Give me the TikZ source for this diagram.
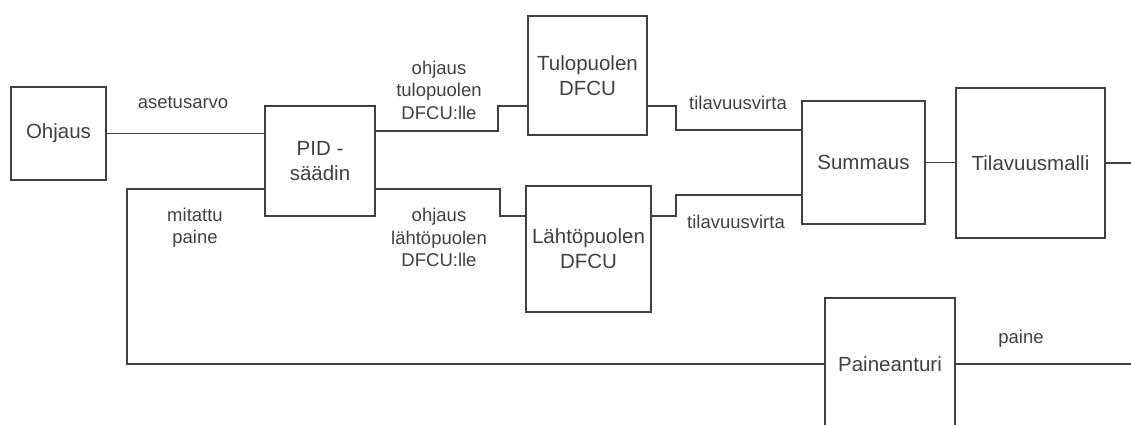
\documentclass[tikz,border=0pt]{standalone}
\usepackage{fontspec}
\setmainfont{Liberation Sans}
\usepackage{tikz}
\usetikzlibrary{calc}
\definecolor{ink}{HTML}{404040}

\begin{document}
\begin{tikzpicture}[
  x=1pt, y=-1pt,
  blk/.style = {draw=ink, line width=1.6pt, align=center, text=ink, inner sep=0pt, font=\fontsize{20.5}{25}\selectfont},
  lbl/.style = {align=center, text=ink, inner sep=0pt, font=\fontsize{18.5}{22.5}\selectfont},
  sig/.style = {draw=ink, line width=1.5pt}
]
\useasboundingbox (0,0) rectangle (1131,425);
\clip (0,0) rectangle (1131,425);

\node[blk, minimum width=95pt, minimum height=93pt] (ohjaus) at (58.5,133.5) {Ohjaus};
\node[blk, minimum width=110pt, minimum height=110pt] (pid) at (320,161) {PID -\\säädin};
\node[blk, minimum width=119pt, minimum height=119pt] (tulo) at (587.5,75.5) {Tulopuolen\\DFCU};
\node[blk, minimum width=125pt, minimum height=126pt] (lahto) at (588.5,249) {Lähtöpuolen\\DFCU};
\node[blk, minimum width=123pt, minimum height=123pt] (summaus) at (863.5,162.5) {Summaus};
\node[blk, minimum width=149pt, minimum height=150pt] (malli) at (1030.5,163) {Tilavuusmalli};
\node[blk, minimum width=130pt, minimum height=132pt] (anturi) at (890,364) {Paineanturi};
\coordinate (ulos) at (1140,0);

\node[lbl] (asetus) at (183,103) {asetusarvo};
\node[lbl] (ohjtulo) at (439,90) {ohjaus\\tulopuolen\\DFCU:lle};
\node[lbl] (ohjlahto) at (439,237.5) {ohjaus\\lähtöpuolen\\DFCU:lle};
\node[lbl] (virta1) at (738,103) {tilavuusvirta};
\node[lbl] (virta2) at (736,222) {tilavuusvirta};
\node[lbl] (mitattu) at (195,227.5) {mitattu\\paine};
\node[lbl] (paine) at (1021,339) {paine};

\draw[sig] (ohjaus.east) -- (ohjaus.east -| pid.west);
\draw[sig] ($(pid.north east)+(0,26)$) -- ++(122,0) |- ($(tulo.south west)+(0,-30)$);
\draw[sig] ($(pid.south east)+(0,-28)$) -- ++(124,0) |- ($(lahto.north west)+(0,31)$);
\draw[sig] ($(tulo.south east)+(0,-30)$) -- ++(28,0) |- ($(summaus.north west)+(0,30)$);
\draw[sig] ($(lahto.north east)+(0,31)$) -- ++(24,0) |- ($(summaus.south west)+(0,-30)$);
\draw[sig] (summaus.east) -- (summaus.east -| malli.west);
\draw[sig] (malli.east) -- (malli.east -| ulos);
\draw[sig] (anturi.east) -- (anturi.east -| ulos);
\draw[sig] (anturi.west) -| ($(pid.south west)+(-137,-28)$) -- ($(pid.south west)+(0,-28)$);
\end{tikzpicture}
\end{document}
